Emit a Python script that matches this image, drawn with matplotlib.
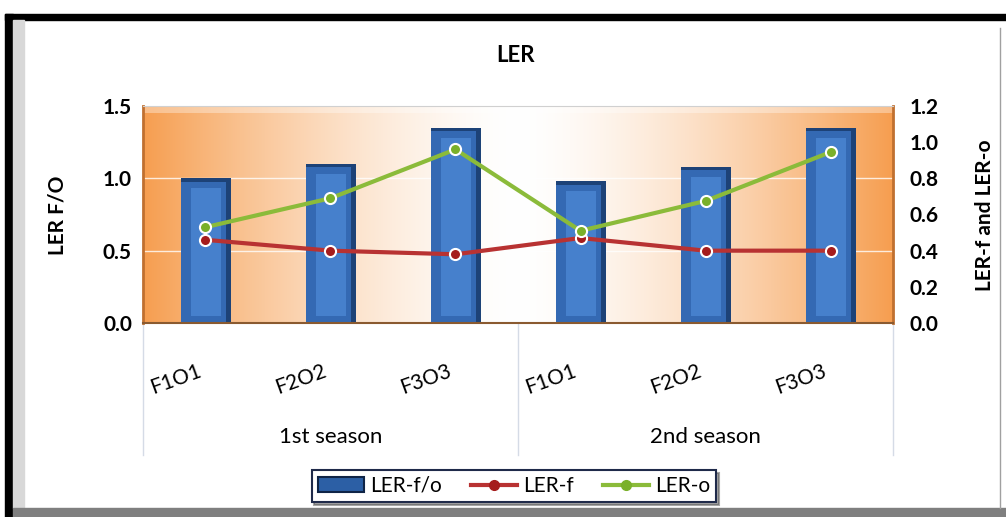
import numpy as np
import matplotlib.pyplot as plt
from matplotlib.patches import Rectangle, Patch
from matplotlib.lines import Line2D

plt.rcParams['font.family'] = ['Lato', 'DejaVu Sans']

treatments = ['F1O1', 'F2O2', 'F3O3', 'F1O1', 'F2O2', 'F3O3']
seasons = ['1st season', '2nd season']
ler_fo = [1.00, 1.10, 1.35, 0.98, 1.08, 1.35]
ler_f = [0.46, 0.40, 0.38, 0.47, 0.40, 0.40]
ler_o = [0.53, 0.69, 0.96, 0.51, 0.675, 0.945]

W, H = 1006, 517
fig = plt.figure(figsize=(W / 100, H / 100), dpi=100)
fig.patch.set_facecolor('white')

def fx(px):
    return px / W

def fy(py):
    return 1 - py / H

# frame round the chart
fig.add_artist(Rectangle((fx(5), 0), fx(8), fy(14), transform=fig.transFigure, color='black', zorder=0))
fig.add_artist(Rectangle((fx(5), fy(20)), 1, fy(14) - fy(20), transform=fig.transFigure, color='black', zorder=0))
fig.add_artist(Rectangle((fx(13), fy(508)), fx(11), fy(20) - fy(508), transform=fig.transFigure, color='#d8d8d8', zorder=0))
fig.add_artist(Rectangle((fx(13), 0), 1, fy(508), transform=fig.transFigure, color='#7f7f7f', zorder=0))
fig.add_artist(Line2D([fx(1000), fx(1000)], [fy(28), fy(508)], transform=fig.transFigure, color='#a0a0a0', lw=1))

ax = fig.add_axes([fx(143), fy(323), fx(750), fy(106) - fy(323)])
x = np.arange(len(treatments))
ax.set_xlim(-0.5, len(treatments) - 0.5)
ax.set_ylim(0, 1.5)

# orange to white background of the plot area
u = np.linspace(0, 1, 400)
w = np.abs(u - 0.5) * 2
w = w ** 1.5
orange = np.array([246, 158, 80]) / 255
grad = 1 - np.outer(np.ones(50), w)[..., None] * (1 - orange)
ax.imshow(grad, extent=(-0.5, len(treatments) - 0.5, 0, 1.5), aspect='auto', zorder=0)
ax.axhspan(1.45, 1.5, color='white', alpha=0.35, zorder=0.5, lw=0)
for g in [0.5, 1.0]:
    ax.axhline(g, color='white', lw=1, alpha=0.8, zorder=0.6)

# bevelled bars
ax.bar(x, ler_fo, width=0.4, color='#1d4277', zorder=2)
ax.bar(x - 0.02, np.array(ler_fo) - 0.025, width=0.36, color='#3469b3', zorder=2.1)
ax.bar(x, np.array(ler_fo) - 0.12, bottom=0.05, width=0.24, color='#4680cc', zorder=2.2)

ax.set_xticks([])
ax.set_yticks([0, 0.5, 1.0, 1.5])
ax.set_yticklabels(['0.0', '0.5', '1.0', '1.5'], fontsize=15, fontweight='bold')
ax.tick_params(axis='y', length=0, pad=8)
for s in ['left', 'right']:
    ax.spines[s].set_color('#c07030')
    ax.spines[s].set_linewidth(2)
ax.spines['top'].set_color('#d0d0d0')
ax.spines['bottom'].set_color('#8a5a30')
ax.spines['bottom'].set_linewidth(1.5)

ax2 = ax.twinx()
ax2.set_ylim(0, 1.2)
ax2.plot(x, ler_f, color='#b83232', lw=3, marker='o', ms=8, mfc='#a51c1c', mec='white', mew=1.5, zorder=3)
ax2.plot(x, ler_o, color='#8bbb3a', lw=3, marker='o', ms=8, mfc='#7ab02a', mec='white', mew=1.5, zorder=3)
ax2.set_yticks(np.arange(0, 1.21, 0.2))
ax2.set_yticklabels(['%.1f' % v for v in np.arange(0, 1.21, 0.2)], fontsize=15, fontweight='bold')
ax2.tick_params(axis='y', length=0, pad=12)
for s in ax2.spines.values():
    s.set_visible(False)

# two level category axis
tr = ax.get_xaxis_transform()
for i, t in enumerate(treatments):
    ax.text(i - 0.24, -0.26, t, transform=tr, rotation=20, ha='center', va='center', fontsize=15)
for k, s in enumerate(seasons):
    ax.text(3 * k + 1, -0.525, s, transform=tr, ha='center', va='center', fontsize=16)
for b in [-0.5, 2.5, 5.5]:
    ax.plot([b, b], [0, -0.61], transform=tr, color='#d5dbe6', lw=1, clip_on=False)

fig.text(fx(515), fy(55), 'LER', ha='center', va='center', fontsize=16, fontweight='bold')
fig.text(fx(58), fy(215), 'LER F/O', ha='center', va='center', rotation=90, fontsize=15, fontweight='bold')
fig.text(fx(985), fy(215), 'LER-f and LER-o', ha='center', va='center', rotation=90, fontsize=15, fontweight='bold')

handles = [Patch(facecolor='#2c5fa5', edgecolor='#0f2446', lw=1.5),
           Line2D([], [], color='#b83232', lw=3, marker='o', ms=7, mfc='#a51c1c', mec='#a51c1c'),
           Line2D([], [], color='#8bbb3a', lw=3, marker='o', ms=7, mfc='#7ab02a', mec='#7ab02a')]
leg = fig.legend(handles, ['LER-f/o', 'LER-f', 'LER-o'], loc='center', ncol=3,
                 bbox_to_anchor=(fx(514), fy(486)), fontsize=15, frameon=True, fancybox=False,
                 shadow=True, edgecolor='#1f2a4a', handlelength=2.2, handletextpad=0.3,
                 columnspacing=1.4, borderpad=0.3)
leg.get_frame().set_linewidth(1.5)

fig.savefig('out.png', dpi=100)
